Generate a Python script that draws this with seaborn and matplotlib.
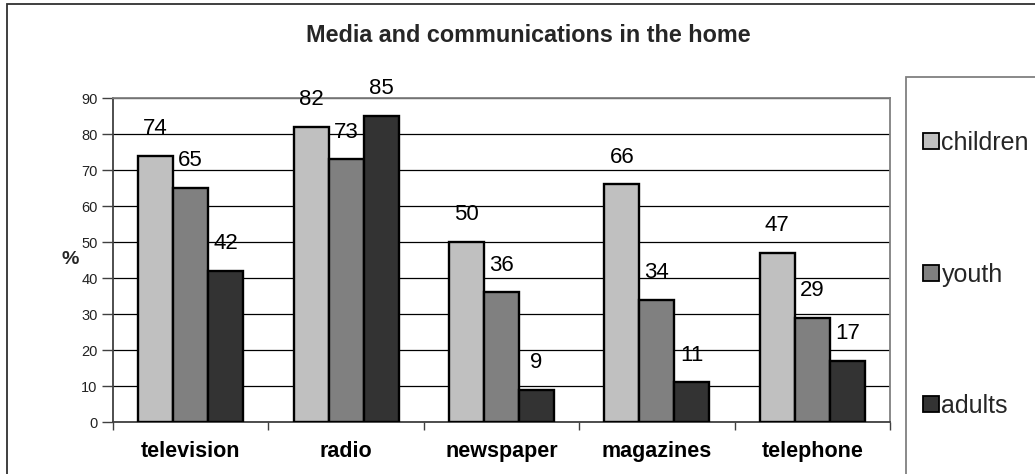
import matplotlib
matplotlib.use("Agg")
import matplotlib.pyplot as plt
import matplotlib.patches as mpatches
import seaborn as sns
import pandas as pd

# Share of homes with each medium, by age group (%)
categories = ["television", "radio", "newspaper", "magazines", "telephone"]
groups = ["children", "youth", "adults"]
children = [74, 82, 50, 66, 47]
youth = [65, 73, 36, 34, 29]
adults = [42, 85, 9, 11, 17]
y_ticks = [0, 10, 20, 30, 40, 50, 60, 70, 80, 90]

colors = ["#C0C0C0", "#808080", "#333333"]

df = pd.DataFrame({
    "medium": categories * 3,
    "group": [g for g in groups for _ in categories],
    "value": children + youth + adults,
})

sns.set_theme(style="white")
plt.rcParams["font.family"] = ["Liberation Sans", "DejaVu Sans"]

W, H = 1035, 474
fig = plt.figure(figsize=(W / 100, H / 100), dpi=100)
fig.patch.set_facecolor("white")

# Outer chart frame (runs off the right and bottom edges)
fig.patches.append(mpatches.Rectangle((7 / W, -0.1), 1.2, 1 - 4 / H + 0.1,
                                      transform=fig.transFigure, fill=False,
                                      edgecolor="#303030", linewidth=1.3))
# Legend frame
fig.patches.append(mpatches.Rectangle((906 / W, -0.1), 1.2, 1 - 77 / H + 0.1,
                                      transform=fig.transFigure, fill=False,
                                      edgecolor="#808080", linewidth=1.3))

ax = fig.add_axes([113 / W, 1 - 422 / H, (890 - 113) / W, (422 - 98) / H])

sns.barplot(data=df, x="medium", y="value", hue="group", order=categories,
            hue_order=groups, palette=colors, width=0.676, edgecolor="black",
            linewidth=1.7, saturation=1, ax=ax, legend=False, zorder=3)

ax.set_xlim(-0.5, len(categories) - 0.5)
ax.set_ylim(0, 90)
ax.set_yticks(y_ticks)
ax.set_yticklabels([str(t) for t in y_ticks], fontsize=10.5, color="#222222")
ax.yaxis.grid(True, color="black", linewidth=0.9, zorder=0)
ax.set_axisbelow(True)

ax.set_xticks(range(len(categories)))
ax.set_xticklabels(categories, fontsize=15.5, fontweight="bold", color="black")
ax.set_xticks([i - 0.5 for i in range(len(categories) + 1)], minor=True)
ax.tick_params(axis="x", which="major", length=0, pad=14)
ax.tick_params(axis="x", which="minor", length=6, width=1, color="#404040",
               direction="out", bottom=True)
ax.tick_params(axis="y", which="major", length=8, width=1, color="#404040",
               direction="out", left=True, pad=3)

ax.set_xlabel("")
ax.set_ylabel("%", fontsize=14, fontweight="bold", rotation=0,
              va="center", ha="center")
ax.yaxis.set_label_coords(-0.055, 0.5)

for side in ["top", "right"]:
    ax.spines[side].set_color("#808080")
    ax.spines[side].set_linewidth(1.3)
for side in ["left", "bottom"]:
    ax.spines[side].set_color("#404040")
    ax.spines[side].set_linewidth(1.3)

# Value labels above each bar
for container in ax.containers:
    for bar in container:
        h = bar.get_height()
        ax.annotate(f"{h:.0f}", xy=(bar.get_x() + bar.get_width() / 2, h),
                    xytext=(0, 27), textcoords="offset pixels",
                    ha="center", va="center", fontsize=16, color="black",
                    zorder=5)

fig.text(528 / W, 1 - 35 / H, "Media and communications in the home",
         ha="center", va="center", fontsize=16.8, fontweight="bold")

# Legend entries
handles = [mpatches.Patch(facecolor=c, edgecolor="black", linewidth=1.3)
           for c in colors]
leg = fig.legend(handles, groups, loc="upper left",
                 bbox_to_anchor=(923 / W, 1 - 131 / H), frameon=False,
                 fontsize=18, handlelength=0.62, handleheight=0.62,
                 handletextpad=0.12, labelspacing=4.3, borderpad=0,
                 borderaxespad=0)

fig.savefig("out.png", dpi=100, facecolor="white")
